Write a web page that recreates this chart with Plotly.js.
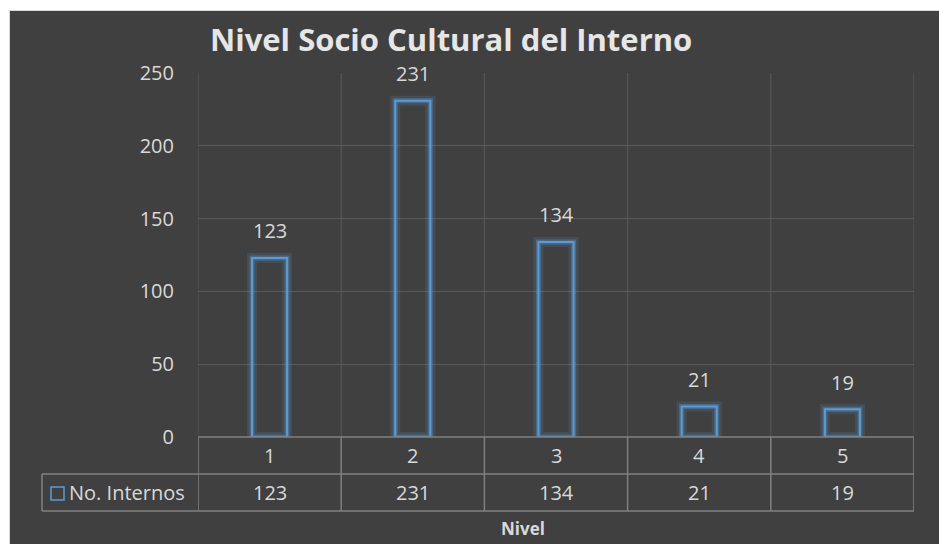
<!DOCTYPE html>
<html>
<head>
<meta charset="utf-8">
<script src="https://cdn.plot.ly/plotly-3.0.1.min.js"></script>
<style>
  html, body { margin: 0; padding: 0; background: #ffffff; }
  #chart { position: absolute; left: 9px; top: 10px; width: 930px; height: 534px; border-top: 1px solid #d9d9d9; border-left: 1px solid #d9d9d9; box-sizing: border-box; }
</style>
</head>
<body>
<div id="chart"></div>
<script>
// ---- data ----
const categories = ['1', '2', '3', '4', '5'];
const noInternos = [123, 231, 134, 21, 19];
const seriesName = 'No. Internos';
const yTickValues = [0, 50, 100, 150, 200, 250];
const chartTitle = 'Nivel Socio Cultural del Interno';
const xAxisTitle = 'Nivel';

// ---- style ----
const FONT = '"Open Sans", Lato, sans-serif';
const TXT = '#d9d9d9';
const GRID = '#5a5a5a';
const TABLE = '#808080';
const BLUE = '#5b9bd5';
const FS = 20;

const W = 930, H = 534;
const mL = 188, mR = 26, mT = 62, mB = 108;
const plotW = W - mL - mR, plotH = H - mT - mB;
const px = (x) => (x - (mL + 9)) / plotW;           // absolute page x -> paper x
const py = (y) => ((mT + 10 + plotH) - y) / plotH;    // absolute page y -> paper y

const rowTop = 0, rowMid = py(473), rowBot = py(510);
const headerLeft = px(41);

const glowOuter = {
  type: 'bar', x: categories, y: noInternos, name: seriesName,
  marker: { color: 'rgba(0,0,0,0)', line: { color: 'rgba(91,155,213,0.16)', width: 10 } },
  hoverinfo: 'skip'
};
const glowInner = {
  type: 'bar', x: categories, y: noInternos, name: seriesName,
  marker: { color: 'rgba(0,0,0,0)', line: { color: 'rgba(91,155,213,0.35)', width: 5 } },
  hoverinfo: 'skip'
};
const mainBars = {
  type: 'bar', x: categories, y: noInternos, name: seriesName,
  marker: { color: 'rgba(0,0,0,0)', line: { color: BLUE, width: 2 } },
  hoverinfo: 'skip'
};

const shapes = [];
const annotations = [];

const nCat = categories.length;
for (let i = 0; i <= nCat; i++) {
  const xb = i - 0.5;
  shapes.push({ type: 'line', xref: 'x', yref: 'paper', x0: xb, x1: xb, y0: 0, y1: 1,
    line: { color: GRID, width: 1 }, layer: 'below' });
  shapes.push({ type: 'line', xref: 'x', yref: 'paper', x0: xb, x1: xb, y0: rowTop, y1: rowBot,
    line: { color: TABLE, width: 1.5 } });
}
shapes.push({ type: 'line', xref: 'paper', yref: 'paper', x0: 0, x1: 1, y0: rowTop, y1: rowTop, line: { color: TABLE, width: 1.5 } });
shapes.push({ type: 'line', xref: 'paper', yref: 'paper', x0: headerLeft, x1: 1, y0: rowMid, y1: rowMid, line: { color: TABLE, width: 1.5 } });
shapes.push({ type: 'line', xref: 'paper', yref: 'paper', x0: headerLeft, x1: 1, y0: rowBot, y1: rowBot, line: { color: TABLE, width: 1.5 } });
shapes.push({ type: 'line', xref: 'paper', yref: 'paper', x0: headerLeft, x1: headerLeft, y0: rowMid, y1: rowBot, line: { color: TABLE, width: 1.5 } });
shapes.push({ type: 'rect', xref: 'paper', yref: 'paper', x0: px(50), x1: px(63), y0: py(499), y1: py(486),
  line: { color: BLUE, width: 1.5 }, fillcolor: 'rgba(0,0,0,0)' });

const txtFont = { family: FONT, size: FS, color: TXT };
categories.forEach((c, i) => {
  annotations.push({ x: i, y: noInternos[i], xref: 'x', yref: 'y', text: String(noInternos[i]),
    showarrow: false, yshift: 27, xanchor: 'center', yanchor: 'middle', font: txtFont });
  annotations.push({ x: i, xref: 'x', yref: 'paper', y: (rowTop + rowMid) / 2, text: c,
    showarrow: false, xanchor: 'center', yanchor: 'middle', font: txtFont });
  annotations.push({ x: i, xref: 'x', yref: 'paper', y: (rowMid + rowBot) / 2, text: String(noInternos[i]),
    showarrow: false, xanchor: 'center', yanchor: 'middle', font: txtFont });
});
annotations.push({ xref: 'paper', yref: 'paper', x: px(66), y: (rowMid + rowBot) / 2, xanchor: 'left', yanchor: 'middle',
  text: seriesName, showarrow: false, font: txtFont });
annotations.push({ xref: 'paper', yref: 'paper', x: px(522), y: py(527), xanchor: 'center', yanchor: 'middle',
  text: '<b>' + xAxisTitle + '</b>', showarrow: false, font: { family: FONT, size: 17, color: TXT } });

const layout = {
  width: W, height: H,
  margin: { l: mL, r: mR, t: mT, b: mB, pad: 0 },
  paper_bgcolor: '#404040', plot_bgcolor: '#404040',
  barmode: 'overlay', bargap: 0.755,
  showlegend: false, hovermode: false,
  title: { text: '<b>' + chartTitle + '</b>', xref: 'container', yref: 'container',
    x: (209 - 9) / W, xanchor: 'left', y: 1 - (39 - 10) / H, yanchor: 'middle',
    font: { family: FONT, size: 31, color: '#e6e6e6' } },
  xaxis: { type: 'category', range: [-0.5, nCat - 0.5], showticklabels: false, showgrid: false,
    zeroline: false, showline: false, ticks: '' },
  yaxis: { range: [0, 250], tickvals: yTickValues, showgrid: true, gridcolor: GRID, gridwidth: 1,
    zeroline: false, showline: false, ticks: '', ticklabelstandoff: 23,
    tickfont: { family: FONT, size: FS, color: TXT } },
  shapes: shapes, annotations: annotations
};

Plotly.newPlot('chart', [glowOuter, glowInner, mainBars], layout, { displayModeBar: false, staticPlot: true });
</script>
</body>
</html>
